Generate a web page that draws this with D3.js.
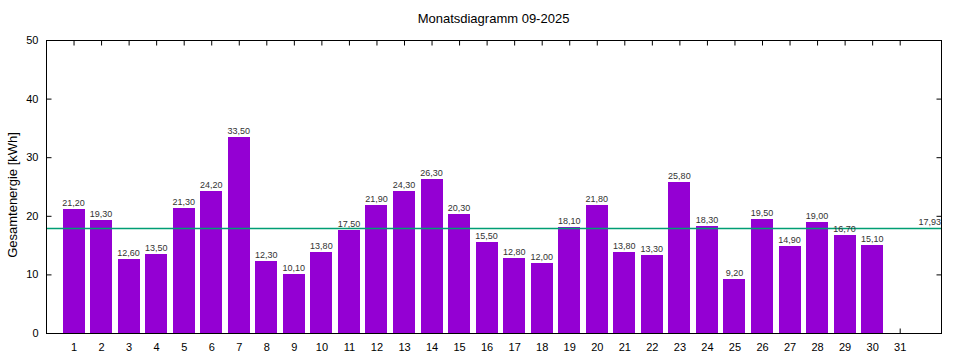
<!DOCTYPE html>
<html><head><meta charset="utf-8">
<script src="https://cdn.jsdelivr.net/npm/d3@7"></script>
<style>body{margin:0;background:#fff}svg{display:block}text{font-family:"Liberation Sans",Arial,sans-serif}</style>
</head><body><svg id="c" width="960" height="360"></svg>
<script>
const days = d3.range(1, 32);
const values = [21.2,19.3,12.6,13.5,21.3,24.2,33.5,12.3,10.1,13.8,17.5,21.9,24.3,26.3,20.3,15.5,12.8,12.0,18.1,21.8,13.8,13.3,25.8,18.3,9.2,19.5,14.9,19.0,16.7,15.1,null];
const yTicks = [0,10,20,30,40,50];
const average = 17.93;
const title = "Monatsdiagramm 09-2025";
const yLabel = "Gesamtenergie [kWh]";

const svg = d3.select("#c");
const L=46, R=941, T=40, B=333;
const x = d3.scaleLinear().domain([0,32.5]).range([L,R]);
const y = d3.scaleLinear().domain([0,50]).range([B,T]);
const step = x(1)-x(0);
const bw = step*0.8;
const fmt = v => v.toFixed(2).replace(".", ",");

const data = days.map((d,i)=>({d, v: values[i]})).filter(e=>e.v!=null);

// average line
svg.append("line").attr("x1",L).attr("x2",R).attr("y1",Math.round(y(average))+0.5).attr("y2",Math.round(y(average))+0.5)
  .attr("stroke","#009e73").attr("stroke-width",1.3);
svg.append("text").attr("x",R).attr("y",y(average)-3).attr("text-anchor","end")
  .attr("font-size",9).attr("fill","#333").text(fmt(average));

// frame
svg.append("rect").attr("x",L+0.5).attr("y",T+0.5).attr("width",R-L).attr("height",B-T)
  .attr("fill","none").attr("stroke","#000").attr("stroke-width",1);

// y ticks
const yAxis = d3.axisLeft(y).tickValues(yTicks).tickSize(-5).tickPadding(8);
const gy = svg.append("g").attr("transform",`translate(${L+0.5},0)`).call(yAxis);
gy.select(".domain").remove();
gy.selectAll("text").attr("font-size",11).attr("font-family","Liberation Sans, Arial, sans-serif").attr("fill","#000");
const gyr = svg.append("g").attr("transform",`translate(${R+0.5},0)`).call(d3.axisRight(y).tickValues(yTicks).tickSize(-5).tickFormat(""));
gyr.select(".domain").remove();

// x ticks
const xAxis = d3.axisBottom(x).tickValues(days).tickSize(-5).tickPadding(10).tickFormat(d3.format("d"));
const gx = svg.append("g").attr("transform",`translate(0,${B+0.5})`).call(xAxis);
gx.select(".domain").remove();
gx.selectAll("text").attr("font-size",11).attr("font-family","Liberation Sans, Arial, sans-serif").attr("fill","#000");
const gxt = svg.append("g").attr("transform",`translate(0,${T+0.5})`).call(d3.axisTop(x).tickValues(days).tickSize(-5).tickFormat(""));
gxt.select(".domain").remove();

// bars over bottom ticks, behind average line? (average line drawn over bars in reference)
const bars = svg.insert("g", ":first-child");
bars.selectAll("rect").data(data).enter().append("rect")
  .attr("x", e=>Math.round(x(e.d)-bw/2)).attr("width", Math.round(bw))
  .attr("y", e=>Math.round(y(e.v))).attr("height", e=>B-Math.round(y(e.v)))
  .attr("fill","#9400d3");
gx.lower(); bars.raise(); 
svg.selectAll("line").filter(function(){return this.parentNode===svg.node();}).raise();
svg.select("rect[fill=none]").raise();

svg.selectAll("text.vl").data(data).enter().append("text").attr("class","vl")
  .attr("x", e=>x(e.d)).attr("y", e=>y(e.v)-3).attr("text-anchor","middle")
  .attr("font-size",9).attr("fill","#333").text(e=>fmt(e.v));

svg.append("text").attr("x",(L+R)/2).attr("y",23).attr("text-anchor","middle").attr("font-size",13).text(title);
svg.append("text").attr("transform",`translate(17,195) rotate(-90)`).attr("text-anchor","middle").attr("font-size",13).text(yLabel);
</script></body></html>
